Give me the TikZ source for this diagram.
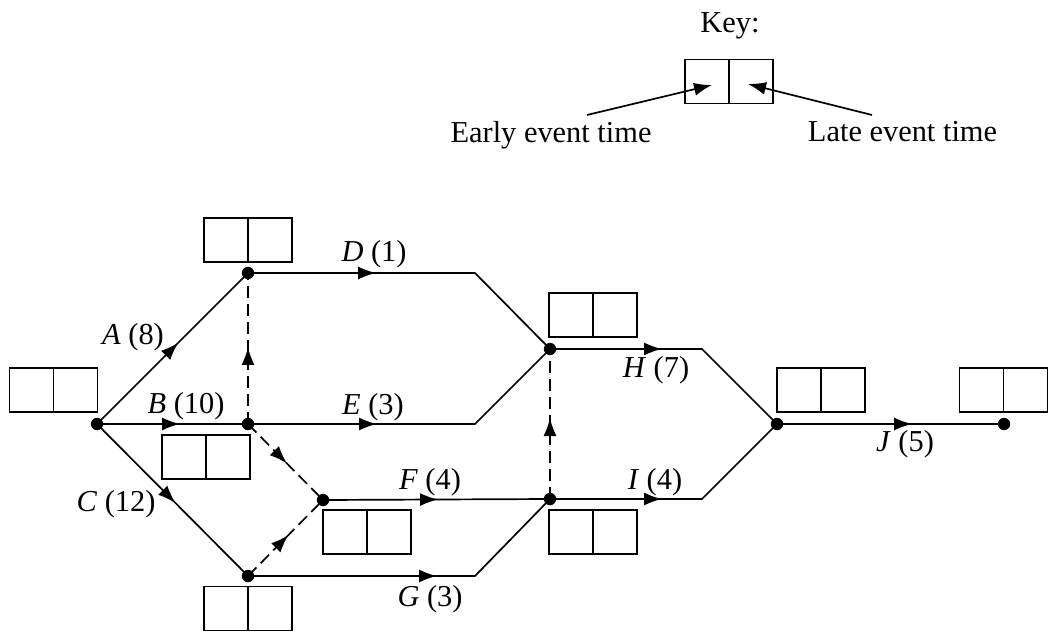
\documentclass[tikz,border=0pt]{standalone}
\usepackage{fontspec}
\setmainfont{Liberation Serif}
\usetikzlibrary{arrows.meta,decorations.markings}
\begin{document}
\begin{tikzpicture}[x=0.5pt,y=-0.5pt,line width=0.85pt,
  dot/.style={circle,fill,inner sep=0pt,minimum size=6.2pt},
  evbox/.style={draw,inner sep=0pt,minimum width=44pt,minimum height=22pt,
    path picture={\draw (path picture bounding box.north)--(path picture bounding box.south);}},
  lab/.style={anchor=base,inner sep=0pt,font=\fontsize{15.2}{18}\selectfont},
  arr/.style={postaction={decorate},decoration={markings,mark=at position #1 with {\arrow{Latex[length=9pt,width=6.5pt]}}}},
  dum/.style={dash pattern=on 6pt off 3pt}]
\useasboundingbox (0,0) rectangle (1048,631);

% key
\node[lab] (keyt) at (730,33) {Key:};
\node[evbox] (keybox) at (729,81.5) {};
\node[lab] (early) at (551,142) {Early event time};
\node[lab] (late) at (902.5,141) {Late event time};
\coordinate (k1s) at (587,115);
\coordinate (k1e) at (712,85);
\coordinate (k2s) at (872,115);
\coordinate (k2e) at (748,84);
\draw[-{Latex[length=9pt,width=6.5pt]}] (k1s) -- (k1e);
\draw[-{Latex[length=9pt,width=6.5pt]}] (k2s) -- (k2e);

% event nodes
\node[dot] (s) at (97,424) {};
\node[dot] (a) at (248,273) {};
\node[dot] (b) at (248,424) {};
\node[dot] (c) at (248,576) {};
\node[dot] (f) at (323,500) {};
\node[dot] (h) at (550,349) {};
\node[dot] (i) at (550,499) {};
\node[dot] (j) at (777,424) {};
\node[dot] (e) at (1004,424) {};

% bends
\coordinate (dbend) at (475,273);
\coordinate (ebend) at (475,424);
\coordinate (gbend) at (475,576);
\coordinate (hbend) at (702,349);
\coordinate (ibend) at (702,499);

% boxes
\node[evbox] (bs) at (53.5,390) {};
\node[evbox] (ba) at (248,240) {};
\node[evbox] (bb) at (206,457) {};
\node[evbox] (bf) at (367,532) {};
\node[evbox] (bc) at (248,608.5) {};
\node[evbox] (bh) at (593,315) {};
\node[evbox] (bi) at (593,532) {};
\node[evbox] (bj) at (821,390) {};
\node[evbox] (be) at (1003.5,390) {};

% activities
\draw[arr=0.54] (s.center) -- (a.center);
\draw[arr=0.55] (s.center) -- (b.center);
\draw[arr=0.52] (s.center) -- (c.center);
\draw[arr=64pt] (a.center) -- (dbend) -- (h.center);
\draw[arr=64.5pt] (b.center) -- (ebend) -- (h.center);
\draw[arr=0.507] (f.center) -- (i.center);
\draw[arr=94.5pt] (c.center) -- (gbend) -- (i.center);
\draw[arr=56pt] (h.center) -- (hbend) -- (j.center);
\draw[arr=56pt] (i.center) -- (ibend) -- (j.center);
\draw[arr=0.595] (j.center) -- (e.center);

% dummies
\draw[dum,arr=0.51] (b.center) -- (a.center);
\draw[dum,arr=0.52] (b.center) -- (f.center);
\draw[dum,arr=0.54] (c.center) -- (f.center);
\draw[dum,arr=0.54] (i.center) -- (h.center);

% labels
\node[lab] (la) at (133,344) {\textit{A} (8)};
\node[lab] (lb) at (186,413) {\textit{B} (10)};
\node[lab] (lc) at (116,511) {\textit{C} (12)};
\node[lab] (ld) at (374,261) {\textit{D} (1)};
\node[lab] (le) at (373,414) {\textit{E} (3)};
\node[lab] (lf) at (430,489) {\textit{F} (4)};
\node[lab] (lg) at (430,606) {\textit{G} (3)};
\node[lab] (lh) at (656,377) {\textit{H} (7)};
\node[lab] (li) at (655,489) {\textit{I} (4)};
\node[lab] (lj) at (905,451) {\textit{J} (5)};
\end{tikzpicture}
\end{document}
